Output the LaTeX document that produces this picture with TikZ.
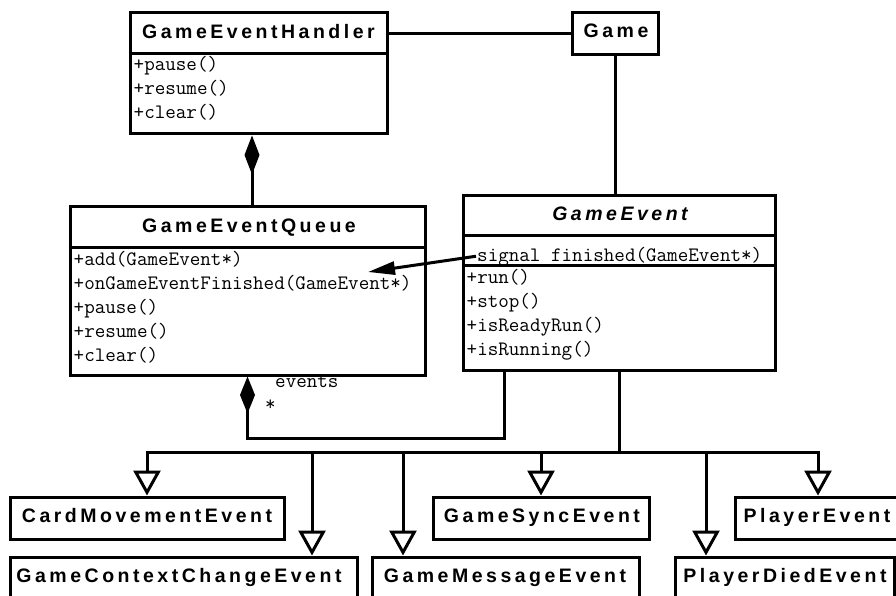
\documentclass[tikz,border=0pt]{standalone}
\usepackage{fontspec}
\setsansfont{Liberation Sans}
\newfontfamily\classfont{Liberation Sans}[LetterSpace=18]
\usetikzlibrary{arrows.meta,calc}

\tikzset{
  umlbox/.style={draw, rectangle, line width=3pt, inner sep=0pt},
  classname/.style={font={\fontsize{19.5pt}{22pt}\classfont\bfseries}, inner sep=0pt, anchor=base},
  member/.style={font={\fontsize{20.5pt}{22pt}\ttfamily}, inner sep=0pt, anchor=base west},
  sepline/.style={line width=3pt},
  link/.style={line width=3pt},
  composite/.style={link, {Diamond[length=39pt,width=15pt]}-},
  inherit/.style={link, -{Triangle[open,length=25pt,width=27pt]}},
  signalarrow/.style={link, -{Triangle[length=27pt,width=13pt]}}
}

\begin{document}
\begin{tikzpicture}[x=1pt,y=-1pt]
\useasboundingbox (0,0) rectangle (896,596);

% ---- GameEventHandler ----
\node[umlbox, minimum width=257pt, minimum height=121pt] (geh) at (258.5,73.5) {};
\draw[sepline] ([yshift=-42pt]geh.north west) -- ([yshift=-42pt]geh.north east);
\node[classname] (geh-name) at (258.5,38.3) {GameEventHandler};
\node[member] (geh-m1) at (133.5,71) {+pause()};
\node[member] (geh-m2) at (133.5,95) {+resume()};
\node[member] (geh-m3) at (133.5,119) {+clear()};

% ---- Game ----
\node[umlbox, minimum width=86pt, minimum height=42pt] (game) at (615,34) {};
\node[classname] (game-name) at (616,37.5) {Game};

% ---- GameEventQueue ----
\node[umlbox, minimum width=355pt, minimum height=169pt] (geq) at (247.5,290.5) {};
\draw[sepline] ([yshift=-43pt]geq.north west) -- ([yshift=-43pt]geq.north east);
\node[classname] (geq-name) at (249,232) {GameEventQueue};
\node[member] (geq-m1) at (73.5,265) {+add(GameEvent*)};
\node[member] (geq-m2) at (73.5,289) {+onGameEventFinished(GameEvent*)};
\node[member] (geq-m3) at (73.5,313) {+pause()};
\node[member] (geq-m4) at (73.5,337) {+resume()};
\node[member] (geq-m5) at (73.5,361) {+clear()};

% ---- GameEvent ----
\node[umlbox, minimum width=312pt, minimum height=175pt] (ge) at (619,282.5) {};
\draw[sepline] ([yshift=-42pt]ge.north west) -- ([yshift=-42pt]ge.north east);
\draw[sepline] ([yshift=-72pt]ge.north west) -- ([yshift=-72pt]ge.north east);
\node[classname, font={\fontsize{19.5pt}{22pt}\classfont\bfseries\itshape}] (ge-name) at (620,220) {GameEvent};
\node[member] (ge-sig) at (477,261) {signal finished(GameEvent*)};
\node[member] (ge-m1) at (466.5,283) {+run()};
\node[member] (ge-m2) at (466.5,307) {+stop()};
\node[member] (ge-m3) at (466.5,331) {+isReadyRun()};
\node[member] (ge-m4) at (466.5,355) {+isRunning()};

% ---- subclasses, upper row ----
\node[umlbox, minimum width=274pt, minimum height=42pt] (cme) at (147,518) {};
\node[classname] (cme-name) at (147,522) {CardMovementEvent};
\node[umlbox, minimum width=216pt, minimum height=42pt] (gse) at (541,518) {};
\node[classname] (gse-name) at (542,522) {GameSyncEvent};
\node[umlbox, minimum width=165pt, minimum height=42pt] (pe) at (817.5,518) {};
\node[classname] (pe-name) at (817,522) {PlayerEvent};

% ---- subclasses, lower row (running past the lower edge) ----
\node[umlbox, minimum width=347pt, minimum height=48pt] (gcce) at (183.5,581) {};
\node[classname] (gcce-name) at (179,582) {GameContextChangeEvent};
\node[umlbox, minimum width=267pt, minimum height=48pt] (gme) at (505.5,581) {};
\node[classname] (gme-name) at (505,582) {GameMessageEvent};
\node[umlbox, minimum width=219pt, minimum height=48pt] (pde) at (784.5,581) {};
\node[classname] (pde-name) at (785,582) {PlayerDiedEvent};

% ---- associations ----
\draw[link] (game.west) -- (game.west -| geh.east);
\draw[link] (game.south) -- (game.south |- ge.north);
\draw[composite] ([xshift=-6.5pt]geh.south) -- ([xshift=-6.5pt]geh.south |- geq.north);

% events: GameEvent aggregated by GameEventQueue
\draw[link, -{Diamond[length=37pt,width=15pt]}]
  ([xshift=43pt]ge.south west) |- ([yshift=-62pt]geq.south) -- (geq.south);
\node[member] (ev-role) at (275,387) {events};
\node[member] (ev-mult) at (265,410) {*};

% finished signal connected to the queue slot
\coordinate (slot) at (368,272);
\draw[signalarrow] ([xshift=-1pt]ge-sig.west) -- (slot);

% ---- generalisation tree ----
\coordinate (busL) at (147,452);
\coordinate (busR) at (818,452);
\coordinate (d2) at (312,452);
\coordinate (d3) at (403,452);
\coordinate (d4) at (541,452);
\coordinate (d5) at (706,452);
\draw[link, line cap=rect] (busL) -- (busR);
\draw[link] (ge.south) -- (ge.south |- busL);
\draw[inherit] (busL) -- (cme.north);
\draw[inherit] (d2) -- (d2 |- gcce.north);
\draw[inherit] (d3) -- (d3 |- gme.north);
\draw[inherit] (d4) -- (gse.north);
\draw[inherit] (d5) -- (d5 |- pde.north);
\draw[inherit] (busR) -- (busR |- pe.north);
\end{tikzpicture}
\end{document}
